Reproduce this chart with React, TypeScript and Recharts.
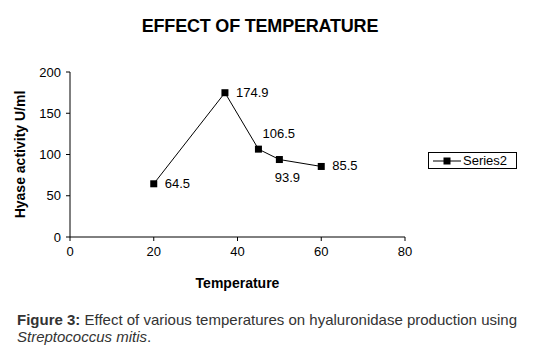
import { LineChart, Line, XAxis, YAxis, LabelList, Label } from "recharts";

const temperatures = [20, 37, 45, 50, 60];
const activity = [64.5, 174.9, 106.5, 93.9, 85.5];
const xTicks = [0, 20, 40, 60, 80];
const yTicks = [0, 50, 100, 150, 200];

const data = temperatures.map((t, i) => ({ temp: t, value: activity[i] }));

// where each value label sits relative to its point
const labelSide = ["right", "right", "above", "below", "right"];

const font = "'Liberation Sans', Arial, sans-serif";

const Square = (props: any) => {
  const { cx, cy } = props;
  return <rect x={cx - 3.5} y={cy - 3.5} width={7} height={7} fill="#000" />;
};

const ValueLabel = (props: any) => {
  const { x, y, value, index } = props;
  const side = labelSide[index];
  let tx = x + 11;
  let ty = y + 4;
  let anchor: "start" | "middle" = "start";
  if (side === "above") {
    tx = x + 4;
    ty = y - 11;
  } else if (side === "below") {
    tx = x + 8;
    ty = y + 22;
    anchor = "middle";
  }
  return (
    <text x={tx} y={ty} textAnchor={anchor} fontSize={13} fontFamily={font} fill="#000">
      {value}
    </text>
  );
};

const LegendBox = () => (
  <div
    style={{
      position: "absolute",
      left: 428,
      top: 152,
      width: 89,
      height: 17,
      border: "1px solid #000",
      boxSizing: "border-box",
      display: "flex",
      alignItems: "center",
      fontFamily: font,
      fontSize: 13,
    }}
  >
    <svg width={34} height={14}>
      <line x1={4} y1={7} x2={32} y2={7} stroke="#000" strokeWidth={1} />
      <rect x={14.5} y={3.5} width={7} height={7} fill="#000" />
    </svg>
    <span>Series2</span>
  </div>
);

export default function App() {
  return (
    <div style={{ position: "absolute", left: 0, top: 0, width: 542, height: 353, background: "#fff" }}>
      <div
        style={{
          position: "absolute",
          left: 0,
          width: 520,
          top: 16,
          textAlign: "center",
          fontFamily: font,
          fontWeight: "bold",
          fontSize: 18,
          letterSpacing: -0.2,
        }}
      >
        EFFECT OF TEMPERATURE
      </div>
      <LineChart
        width={542}
        height={300}
        data={data}
        margin={{ top: 72, right: 137, bottom: 0, left: 0 }}
        style={{ position: "absolute", left: 0, top: 0 }}
      >
        <XAxis
          dataKey="temp"
          type="number"
          domain={[0, 80]}
          ticks={xTicks}
          stroke="#000"
          tickSize={4}
          height={63}
          tick={{ fill: "#000", fontSize: 13, fontFamily: font }}
          tickMargin={6}
        >
          <Label
            value="Temperature"
            position="insideBottom"
            offset={12}
            style={{ fontFamily: font, fontWeight: "bold", fontSize: 14, fill: "#000" }}
          />
        </XAxis>
        <YAxis
          type="number"
          domain={[0, 200]}
          ticks={yTicks}
          stroke="#000"
          tickSize={4}
          width={70}
          tick={{ fill: "#000", fontSize: 13, fontFamily: font }}
          tickMargin={5}
        >
          <Label
            value="Hyase activity U/ml"
            angle={-90}
            position="insideLeft"
            offset={20}
            style={{ textAnchor: "middle", fontFamily: font, fontWeight: "bold", fontSize: 14, fill: "#000" }}
          />
        </YAxis>
        <Line
          dataKey="value"
          name="Series2"
          stroke="#000"
          strokeWidth={1}
          dot={<Square />}
          activeDot={false}
          isAnimationActive={false}
        >
          <LabelList dataKey="value" content={<ValueLabel />} />
        </Line>
      </LineChart>
      <LegendBox />
      <div
        style={{
          position: "absolute",
          left: 17,
          top: 311,
          fontFamily: font,
          fontSize: 15,
          color: "#333",
          lineHeight: "17px",
        }}
      >
        <b>Figure 3:</b> Effect of various temperatures on hyaluronidase production using
        <br />
        <i>Streptococcus mitis</i>.
      </div>
    </div>
  );
}
